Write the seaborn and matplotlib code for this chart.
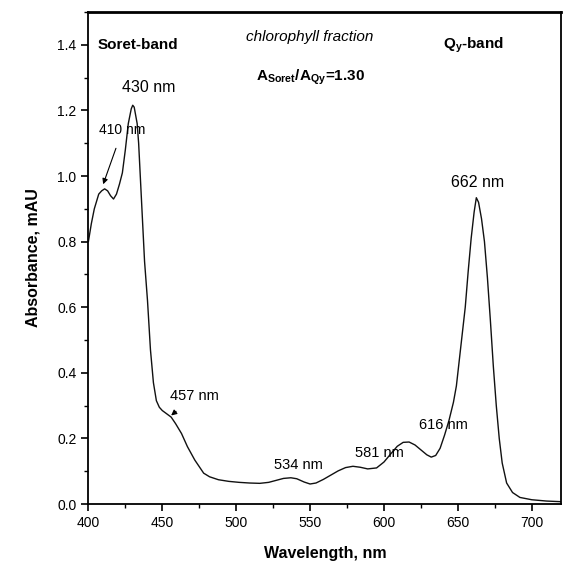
import matplotlib
matplotlib.use("Agg")
import matplotlib.pyplot as plt
import seaborn as sns
import pandas as pd
from matplotlib.ticker import MultipleLocator

wavelength = [400, 402, 404, 407, 409, 411, 413, 415, 417, 419, 421, 423, 425, 427, 429, 430, 431, 433,
              434, 435, 436, 438, 440, 442, 444, 446, 448, 450, 453, 456, 459, 463, 467, 472, 478,
              482, 488, 495, 502, 509, 516, 522, 527, 532, 537, 541, 546, 550, 554, 559, 564, 569, 574,
              579, 584, 589, 595, 600, 605, 609, 613, 617, 621, 625, 629, 632, 635, 638, 641, 644, 647,
              649, 651, 653, 655, 657, 659, 661, 662.5, 664, 666, 668, 670, 672, 674, 676, 678, 680, 683,
              687, 692, 700, 710, 720]
absorbance = [0.80, 0.855, 0.90, 0.945, 0.955, 0.961, 0.955, 0.94, 0.93, 0.945, 0.975, 1.01, 1.08, 1.16, 1.205, 1.216, 1.21, 1.16,
              1.10, 1.01, 0.92, 0.74, 0.62, 0.47, 0.37, 0.315, 0.295, 0.285, 0.275, 0.265, 0.245, 0.215, 0.175, 0.134, 0.094,
              0.083, 0.074, 0.069, 0.066, 0.064, 0.063, 0.066, 0.072, 0.078, 0.080, 0.077, 0.067, 0.061, 0.064, 0.075, 0.088, 0.101, 0.111,
              0.115, 0.112, 0.107, 0.11, 0.128, 0.155, 0.176, 0.188, 0.189, 0.18, 0.165, 0.15, 0.143, 0.148, 0.17, 0.21, 0.255, 0.31,
              0.36, 0.44, 0.52, 0.60, 0.71, 0.81, 0.89, 0.934, 0.92, 0.87, 0.80, 0.69, 0.56, 0.42, 0.30, 0.20, 0.125, 0.064,
              0.035, 0.02, 0.013, 0.009, 0.007]

peak_labels = ["430 nm", "410 nm", "457 nm", "534 nm", "581 nm", "616 nm", "662 nm"]

sns.set_style("ticks")
plt.rcParams['font.family'] = ['Liberation Sans', 'DejaVu Sans']
plt.rcParams.update({'text.color': 'black', 'axes.labelcolor': 'black',
                     'xtick.color': 'black', 'ytick.color': 'black'})

df = pd.DataFrame({"Wavelength": wavelength, "Absorbance": absorbance})

fig = plt.figure(figsize=(5.63, 5.76), dpi=100)
ax = fig.add_axes([0.157, 0.125, 0.84, 0.854])
sns.lineplot(data=df, x="Wavelength", y="Absorbance", ax=ax, color="#111111", linewidth=1.0)

ax.set_xlim(400, 720)
ax.set_ylim(0, 1.5)
ax.xaxis.set_major_locator(MultipleLocator(50))
ax.xaxis.set_minor_locator(MultipleLocator(25))
ax.yaxis.set_major_locator(MultipleLocator(0.2))
ax.yaxis.set_minor_locator(MultipleLocator(0.1))
ax.yaxis.set_major_formatter(matplotlib.ticker.FormatStrFormatter('%.1f'))
ax.tick_params(which='major', direction='out', length=5, width=1.2, labelsize=10, colors='black')
ax.tick_params(which='minor', direction='out', length=3, width=1.0)
for s in ax.spines.values():
    s.set_linewidth(1.3)
    s.set_color('black')
ax.spines['top'].set_linewidth(2.0)

ax.set_xlabel("Wavelength, nm", fontsize=11.5, fontweight='bold', labelpad=12)
ax.set_ylabel("Absorbance, mAU", fontsize=11.5, fontweight='bold', labelpad=12)

fs = 10.5
ax.text(440.5, 1.27, peak_labels[0], fontsize=11.5, ha='center', va='center')
ax.annotate(peak_labels[1], xy=(410, 0.975), xytext=(423, 1.14), fontsize=10, ha='center', va='center',
            arrowprops=dict(arrowstyle='-|>', color='black', lw=0.8, shrinkA=6, shrinkB=0, mutation_scale=8))
ax.annotate(peak_labels[2], xy=(456, 0.27), xytext=(472, 0.33), fontsize=fs, ha='center', va='center',
            arrowprops=dict(arrowstyle='-|>', color='black', lw=0.8, shrinkA=6, shrinkB=0, mutation_scale=8))
ax.text(542, 0.12, peak_labels[3], fontsize=fs, ha='center', va='center')
ax.text(597, 0.155, peak_labels[4], fontsize=fs, ha='center', va='center')
ax.text(640, 0.24, peak_labels[5], fontsize=fs, ha='center', va='center')
ax.text(663, 0.98, peak_labels[6], fontsize=11.5, ha='center', va='center')

ax.text(406, 1.40, "Soret-band", fontsize=11, fontweight='bold', ha='left', va='center')
ax.text(550, 1.425, "chlorophyll fraction", fontsize=11, style='italic', ha='center', va='center')
ax.text(640, 1.40, r"Q$_{\mathregular{y}}$-band", fontsize=11, fontweight='bold', ha='left', va='center')
ax.text(550, 1.30, r"A$_{\mathregular{Soret}}$/A$_{\mathregular{Qy}}$=1.30", fontsize=11, fontweight='bold',
        ha='center', va='center')

fig.savefig("out.png", dpi=100)
